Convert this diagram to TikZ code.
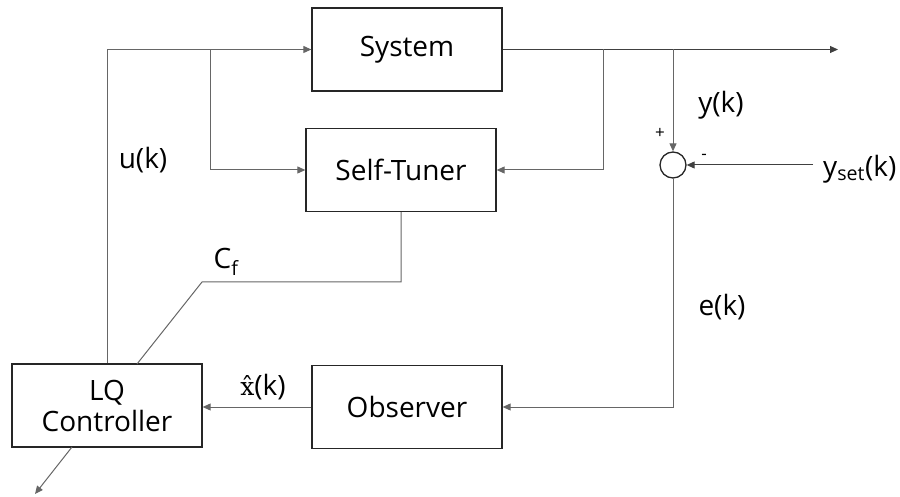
\documentclass[tikz,border=0pt]{standalone}
\usepackage{fontspec}
\setmainfont{Open Sans}
\newfontfamily\hatfont{DejaVu Serif}
\usetikzlibrary{arrows.meta}
\begin{document}
\begin{tikzpicture}[x=1pt,y=-1pt,
  blk/.style={draw=black!85,line width=1.3pt,minimum width=190pt,minimum height=83pt,inner sep=0pt,font=\fontsize{28}{33}\selectfont,align=center},
  wire/.style={draw=black!60,line width=1pt},
  arr/.style={wire,-{Triangle[length=8pt,width=7pt]}},
  lbl/.style={font=\fontsize{28}{33}\selectfont,inner sep=0pt},
  sgn/.style={font=\fontsize{17}{19}\selectfont,inner sep=0pt}]
\useasboundingbox (0,0) rectangle (900,497);
\node[blk] (sys) at (407,49.5) {System};
\node[blk] (st) at (401,170) {Self-Tuner};
\node[blk] (lq) at (107,405.5) {LQ\\[-2pt]Controller};
\node[blk] (obs) at (407,407) {Observer};
\node[draw=black!85,line width=1.3pt,circle,minimum size=26pt,inner sep=0pt] (sum) at (673,165) {};
\node[lbl,anchor=west,inner xsep=10pt] (yset) at (813,169) {y\textsubscript{set}(k)};
\coordinate (out) at (838,49.5);
\coordinate (b1) at (210,49.5);
\coordinate (b2) at (603,49.5);
\coordinate (b3) at (673,49.5);
\coordinate (c1) at (401,282);
\coordinate (c2) at (202,282);
\coordinate (c3) at (137,364);
\coordinate (lqo) at (72,447);
\coordinate (dn) at (35,494);
% connectors
\draw[arr] (lq.north) |- (sys.west);
\draw[arr] (b1) |- (st.west);
\draw[arr,draw=black!75] (sys.east) -- (out);
\draw[arr] (b2) |- (st.east);
\draw[arr] (b3) -- (sum.north);
\draw[arr,draw=black!75] (yset.west |- sum.east) -- (sum.east);
\draw[arr] (sum.south) |- (obs.east);
\draw[arr] (obs.west) -- (obs.west -| lq.east);
\draw[wire] (st.south) -- (c1) -- (c2) -- (c3);
\draw[arr] (lqo) -- (dn);
% labels
\node[lbl] (uk) at (143,160) {u(k)};
\node[lbl] (yk) at (721,105) {y(k)};
\node[lbl] (ek) at (722,307) {e(k)};
\node[lbl] (cf) at (226,262) {C\textsubscript{f}};
\node[lbl] (xk) at (263,387) {{\hatfont\fontsize{25}{30}\selectfont x̂}(k)};
\node[sgn] (plus) at (660,133) {+};
\node[sgn] (minus) at (704,157) {-};
\end{tikzpicture}
\end{document}
